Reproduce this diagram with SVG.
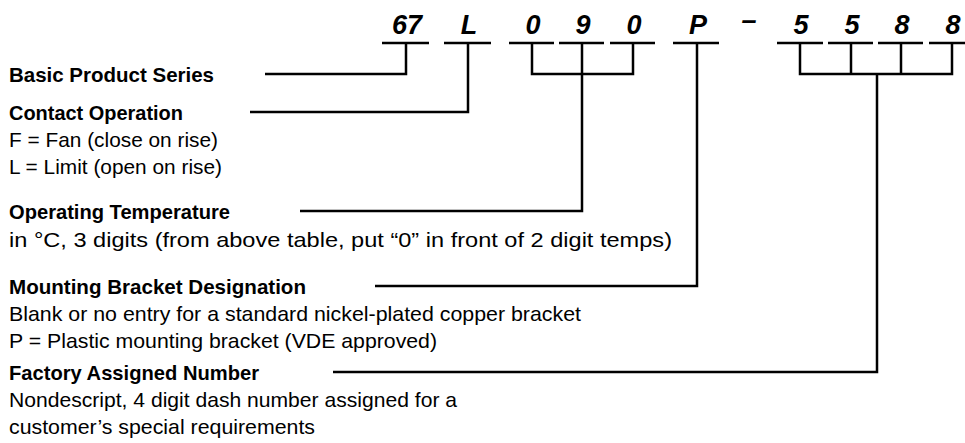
<svg xmlns="http://www.w3.org/2000/svg" width="965" height="443" viewBox="0 0 965 443">
<style>
.t{font-family:"Liberation Sans Narrow","Liberation Sans",Arial,sans-serif;font-size:21px;fill:#000}
.h{font-weight:bold}
.d{font-family:"Liberation Sans","Arial",sans-serif;font-size:27px;font-weight:bold;font-style:italic;fill:#000;text-anchor:middle}
.ln{stroke:#000;stroke-width:2.5;fill:none;stroke-linecap:butt;stroke-linejoin:miter}
</style>
<rect width="965" height="443" fill="#fff"/>
<g id="code">
<text class="d" x="407" y="34">67</text>
<text class="d" x="469" y="34">L</text>
<text class="d" x="533" y="34">0</text>
<text class="d" x="583" y="34">9</text>
<text class="d" x="634" y="34">0</text>
<text class="d" x="698" y="34">P</text>
<text class="d" x="749" y="29">–</text>
<text class="d" x="801" y="34">5</text>
<text class="d" x="852" y="34">5</text>
<text class="d" x="902" y="34">8</text>
<text class="d" x="953" y="34">8</text>
<g class="ln">
<line x1="382" y1="43" x2="429" y2="43"/>
<line x1="444" y1="43" x2="491" y2="43"/>
<line x1="509" y1="43" x2="554" y2="43"/>
<line x1="559" y1="43" x2="604" y2="43"/>
<line x1="610" y1="43" x2="655" y2="43"/>
<line x1="673" y1="43" x2="719" y2="43"/>
<line x1="777" y1="43" x2="823" y2="43"/>
<line x1="828" y1="43" x2="873" y2="43"/>
<line x1="878" y1="43" x2="923" y2="43"/>
<line x1="929" y1="43" x2="965" y2="43"/>
</g>
</g>
<g id="basic-product-series">
<text class="t h" x="9" y="82" textLength="205" lengthAdjust="spacingAndGlyphs">Basic Product Series</text>
</g>
<g id="contact-operation">
<text class="t h" x="9" y="120" textLength="174" lengthAdjust="spacingAndGlyphs">Contact Operation</text>
<text class="t" x="9" y="147" textLength="209" lengthAdjust="spacingAndGlyphs">F = Fan (close on rise)</text>
<text class="t" x="9" y="174" textLength="213" lengthAdjust="spacingAndGlyphs">L = Limit (open on rise)</text>
</g>
<g id="operating-temperature">
<text class="t h" x="9" y="219" textLength="221" lengthAdjust="spacingAndGlyphs">Operating Temperature</text>
<text class="t" x="9" y="247" textLength="663" lengthAdjust="spacingAndGlyphs">in °C, 3 digits (from above table, put “0” in front of 2 digit temps)</text>
</g>
<g id="mounting-bracket">
<text class="t h" x="9" y="294" textLength="297" lengthAdjust="spacingAndGlyphs">Mounting Bracket Designation</text>
<text class="t" x="9" y="321" textLength="572" lengthAdjust="spacingAndGlyphs">Blank or no entry for a standard nickel-plated copper bracket</text>
<text class="t" x="9" y="348" textLength="428" lengthAdjust="spacingAndGlyphs">P = Plastic mounting bracket (VDE approved)</text>
</g>
<g id="factory-number">
<text class="t h" x="9" y="380" textLength="250" lengthAdjust="spacingAndGlyphs">Factory Assigned Number</text>
<text class="t" x="9" y="407" textLength="448" lengthAdjust="spacingAndGlyphs">Nondescript, 4 digit dash number assigned for a</text>
<text class="t" x="9" y="434" textLength="306" lengthAdjust="spacingAndGlyphs">customer’s special requirements</text>
</g>
<g id="connectors" class="ln">
<polyline points="406,43 406,74 265,74"/>
<polyline points="468,43 468,112 250,112"/>
<polyline points="532,43 532,74 633,74 633,43"/>
<polyline points="582,43 582,211 300,211"/>
<polyline points="697,43 697,286 375,286"/>
<polyline points="800,43 800,74 952,74 952,43"/>
<line x1="851" y1="43" x2="851" y2="74"/>
<line x1="901" y1="43" x2="901" y2="74"/>
<polyline points="877,74 877,372 333,372"/>
</g>
</svg>
